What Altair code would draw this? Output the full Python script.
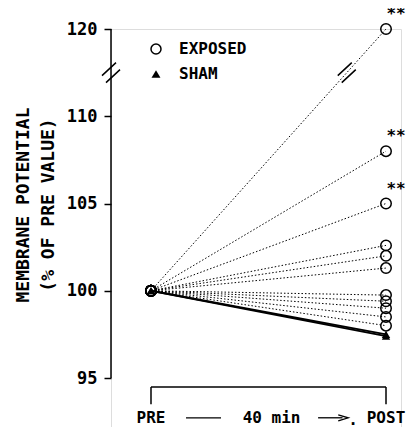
import altair as alt
import pandas as pd

# ---------------- data ----------------
pre_value = 100.0
exposed_post = [120.0, 108.0, 105.0, 102.6, 102.0, 101.3, 99.75, 99.4, 99.0, 98.5, 98.0]
exposed_signif = [True, True, True, False, False, False, False, False, False, False, False]
sham_post = [97.5, 97.4]

y_tick_values = [95, 100, 105, 110, 115]          # positions on the (broken) scale
y_tick_labels = ["95", "100", "105", "110", "120"]  # printed labels
break_above = 112.5      # values above this are drawn shifted down (axis break)
break_shift = 5.0

legend_labels = ["EXPOSED", "SHAM"]
title_lines = ["MEMBRANE POTENTIAL", "(% OF PRE VALUE)"]
bottom_labels = ["PRE", "40 min", "POST"]

FONT = "DejaVu Sans Mono"

def plot_y(v):
    return v - break_shift if v > break_above else v

rows = []
for i, (v, s) in enumerate(zip(exposed_post, exposed_signif)):
    rows.append(dict(id=f"E{i}", group="EXPOSED", t=0.0, value=pre_value, py=plot_y(pre_value), star=""))
    rows.append(dict(id=f"E{i}", group="EXPOSED", t=1.0, value=v, py=plot_y(v), star="**" if s else ""))
for i, v in enumerate(sham_post):
    rows.append(dict(id=f"S{i}", group="SHAM", t=0.0, value=pre_value, py=plot_y(pre_value), star=""))
    rows.append(dict(id=f"S{i}", group="SHAM", t=1.0, value=v, py=plot_y(v), star=""))
df = pd.DataFrame(rows)

xs = alt.Scale(domain=[-0.1702, 1.0638], nice=False, zero=False)
ys = alt.Scale(domain=[92.192, 115], nice=False, zero=False)

label_expr = " : ".join(
    [f"datum.value == {v} ? '{l}'" for v, l in zip(y_tick_values, y_tick_labels)] + ["datum.label"]
)
y_axis = alt.Axis(
    values=y_tick_values, labelExpr=label_expr, domain=False, grid=False,
    tickSize=7, tickColor="black", tickWidth=1.5, labelColor="black",
    labelFont=FONT, labelFontSize=17, labelFontWeight="bold", labelPadding=7,
    title=None)

def X(field="t:Q"):
    return alt.X(field, scale=xs, axis=None)

def Y(field="py:Q"):
    return alt.Y(field, scale=ys, axis=y_axis)

base = alt.Chart(df)

exp_lines = base.transform_filter(alt.datum.group == "EXPOSED").mark_line(
    color="black", strokeWidth=1, strokeDash=[1.5, 2]
).encode(x=X(), y=Y(), detail="id:N")

sham_lines = base.transform_filter(alt.datum.group == "SHAM").mark_line(
    color="black", strokeWidth=2
).encode(x=X(), y=Y(), detail="id:N")

exp_pts = base.transform_filter(alt.datum.group == "EXPOSED").mark_point(
    shape="circle", filled=False, size=110, stroke="black", strokeWidth=1.5, opacity=1
).encode(x=X(), y=Y())

sham_pts = base.transform_filter(alt.datum.group == "SHAM").mark_point(
    shape="triangle-up", filled=True, size=70, color="black", opacity=1
).encode(x=X(), y=Y())

stars = base.transform_filter(alt.datum.star != "").mark_text(
    font=FONT, fontSize=16, fontWeight="bold", color="black", dx=10, dy=-15
).encode(x=X(), y=Y(), text="star:N")

# y axis line (95 .. top)
axis_df = pd.DataFrame({"py": [95.0], "py2": [115.0]})
axis_line = alt.Chart(axis_df).mark_rule(color="black", strokeWidth=1.5).encode(
    x=alt.value(0), y=Y(), y2="py2:Q"
)

# axis-break marks (on the axis and on the broken line)
slash = "M-0.9,0.3L0.5,-1M-0.5,1L0.9,-0.3"
brk_df = pd.DataFrame({"t": [-0.1702, 0.833], "py": [break_above, break_above]})
breaks = alt.Chart(brk_df).mark_point(
    shape=slash, size=400, stroke="black", strokeWidth=1.5, filled=False, opacity=1
).encode(x=X(), y=Y())

# legend (drawn by hand, as in the figure)
leg_df = pd.DataFrame({"label": legend_labels})
leg_circle = alt.Chart(leg_df).transform_filter(alt.datum.label == legend_labels[0]).mark_point(
    shape="circle", filled=False, size=100, stroke="black", strokeWidth=1.5, opacity=1
).encode(x=alt.value(45), y=alt.value(20))
leg_tri = alt.Chart(leg_df).transform_filter(alt.datum.label == legend_labels[1]).mark_point(
    shape="triangle-up", filled=True, size=80, color="black", opacity=1
).encode(x=alt.value(45), y=alt.value(45))
leg_txt1 = alt.Chart(leg_df).transform_filter(alt.datum.label == legend_labels[0]).mark_text(
    font=FONT, fontSize=16, fontWeight="bold", color="black", align="left", baseline="middle"
).encode(x=alt.value(68), y=alt.value(20), text="label:N")
leg_txt2 = alt.Chart(leg_df).transform_filter(alt.datum.label == legend_labels[1]).mark_text(
    font=FONT, fontSize=16, fontWeight="bold", color="black", align="left", baseline="middle"
).encode(x=alt.value(68), y=alt.value(45), text="label:N")

# y title (two lines, rotated)
title_df = pd.DataFrame({"txt": title_lines})
title1 = alt.Chart(title_df).transform_filter(alt.datum.txt == title_lines[0]).mark_text(
    font=FONT, fontSize=18, fontWeight="bold", color="black", angle=270, align="center",
    baseline="middle"
).encode(x=alt.value(-87), y=alt.value(176), text="txt:N")
title2 = alt.Chart(title_df).transform_filter(alt.datum.txt == title_lines[1]).mark_text(
    font=FONT, fontSize=18, fontWeight="bold", color="black", angle=270, align="center",
    baseline="middle"
).encode(x=alt.value(-62), y=alt.value(176), text="txt:N")

# bottom bracket
br_h = pd.DataFrame({"t": [0.0], "t2": [1.0], "py": [94.48]})
bracket_h = alt.Chart(br_h).mark_rule(color="black", strokeWidth=1.5).encode(
    x=X(), x2="t2:Q", y=Y())
br_v = pd.DataFrame({"t": [0.0, 1.0], "py": [94.48, 94.48], "py2": [93.5, 93.5]})
bracket_v = alt.Chart(br_v).mark_rule(color="black", strokeWidth=1.5).encode(
    x=X(), y=Y(), y2="py2:Q")

# bottom labels
lab_df = pd.DataFrame({"txt": bottom_labels, "t": [0.0, 0.513, 1.0], "py": [92.72, 92.72, 92.72]})
bottom_text = alt.Chart(lab_df).mark_text(
    font=FONT, fontSize=16, fontWeight="bold", color="black", baseline="middle"
).encode(x=X(), y=Y(), text="txt:N")
dot_df = pd.DataFrame({"txt": ["."], "t": [0.86], "py": [92.57]})
dot_text = alt.Chart(dot_df).mark_text(
    font=FONT, fontSize=16, fontWeight="bold", color="black", baseline="middle"
).encode(x=X(), y=Y(), text="txt:N")
dash_df = pd.DataFrame({"t": [0.149, 0.711], "t2": [0.298, 0.815], "py": [92.72, 92.72]})
dashes = alt.Chart(dash_df).mark_rule(color="black", strokeWidth=1.3).encode(
    x=X(), x2="t2:Q", y=Y())
head_df = pd.DataFrame({"t": [0.818], "py": [92.72]})
head = alt.Chart(head_df).mark_point(
    shape="M-1,-0.6L1,0L-1,0.6", size=100, stroke="black", strokeWidth=1.3, filled=False, opacity=1
).encode(x=X(), y=Y())

chart = alt.layer(
    exp_lines, sham_lines, exp_pts, sham_pts, stars, axis_line, breaks,
    leg_circle, leg_tri, leg_txt1, leg_txt2, title1, title2, bracket_h, bracket_v,
    bottom_text, dot_text, dashes, head,
).properties(
    width=290, height=398,
    padding={"left": 103, "top": 21, "right": 6, "bottom": 0},
    autosize=alt.AutoSizeParams(type="none"),
).configure_view(stroke=None).configure(background="white")

chart.save("out.html", embed_options={"renderer": "svg", "actions": False})
